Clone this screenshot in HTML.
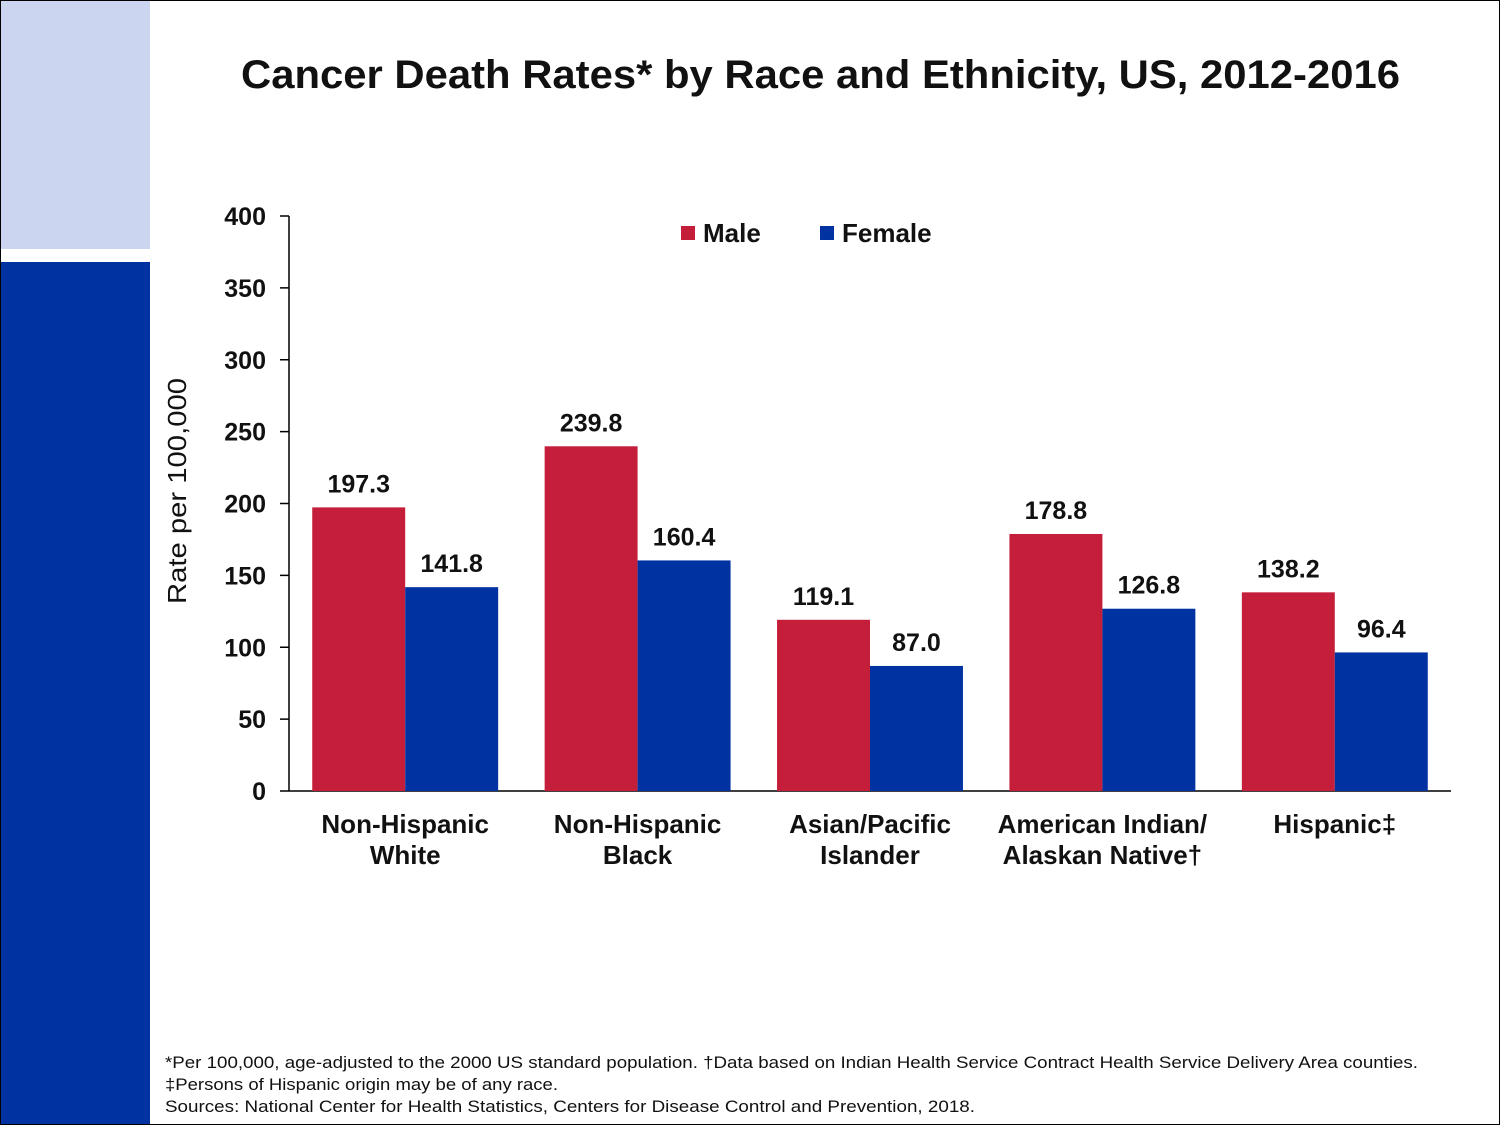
<!DOCTYPE html>
<html><head><meta charset="utf-8"><style>
html,body{margin:0;padding:0;background:#fff;}
svg{display:block;font-family:"Liberation Sans",Arial,sans-serif;}
</style></head><body>
<svg id="chart" width="1500" height="1125" viewBox="0 0 1500 1125">
<rect x="0.5" y="0.5" width="1499" height="1124" fill="#fff" stroke="#000"/>
<rect x="1" y="1" width="149" height="248" fill="#ccd5ef"/>
<rect x="1" y="262" width="149" height="862" fill="#0033a1"/>
<text x="241" y="88" textLength="1159" lengthAdjust="spacingAndGlyphs" font-size="40" font-weight="bold" fill="#111">Cancer Death Rates* by Race and Ethnicity, US, 2012-2016</text>
<text transform="translate(186,604) rotate(-90)" textLength="226" lengthAdjust="spacingAndGlyphs" font-size="26" fill="#111">Rate per 100,000</text>
<g id="axes"></g>
<g id="bars"></g>
<g>
<rect x="681" y="226" width="14" height="14" fill="#c41e3a"/>
<text x="703" y="242" font-size="26" font-weight="bold" fill="#111">Male</text>
<rect x="820" y="226" width="14" height="14" fill="#0033a1"/>
<text x="842" y="242" font-size="26" font-weight="bold" fill="#111">Female</text>
</g>
<g font-size="17" fill="#111">
<text x="165" y="1068" textLength="1253" lengthAdjust="spacingAndGlyphs">*Per 100,000, age-adjusted to the 2000 US standard population. †Data based on Indian Health Service Contract Health Service Delivery Area counties.</text>
<text x="165" y="1090" textLength="393" lengthAdjust="spacingAndGlyphs">‡Persons of Hispanic origin may be of any race.</text>
<text x="165" y="1112" textLength="810" lengthAdjust="spacingAndGlyphs">Sources: National Center for Health Statistics, Centers for Disease Control and Prevention, 2018.</text>
</g>
</svg>
<script>
const categories = [["Non-Hispanic","White"],["Non-Hispanic","Black"],["Asian/Pacific","Islander"],["American Indian/","Alaskan Native†"],["Hispanic‡"]];
const maleValues = [197.3, 239.8, 119.1, 178.8, 138.2];
const femaleValues = [141.8, 160.4, 87.0, 126.8, 96.4];
const yTicks = [0, 50, 100, 150, 200, 250, 300, 350, 400];

const NS = "http://www.w3.org/2000/svg";
const x0 = 289, x1 = 1451, yBase = 791, yTop = 216, yMax = 400;
const band = (x1 - x0) / categories.length;
const barW = band * 0.4;
function y(v){ return yBase - (v / yMax) * (yBase - yTop); }
function bandX(i){ return x0 + band * i + band / 2; }
function mk(tag, attrs, parent, text){
  const e = document.createElementNS(NS, tag);
  for (const k in attrs) e.setAttribute(k, attrs[k]);
  if (text !== undefined) e.textContent = text;
  parent.appendChild(e); return e;
}
const axes = document.getElementById('axes');
const bars = document.getElementById('bars');
let l = mk('line', {x1:x0, y1:yTop, x2:x0, y2:yBase, stroke:'#000', 'stroke-width':1.5}, axes);


l = mk('line', {x1:x0, y1:yBase, x2:x1, y2:yBase, stroke:'#000', 'stroke-width':1.5}, axes);


yTicks.forEach(t => {
  const tk = mk('line', {x1:x0-9, y1:y(t), x2:x0, y2:y(t), stroke:'#000', 'stroke-width':1.5}, axes);
  
  
  const tl = mk('text', {x:266, y:y(t)+9, 'text-anchor':'end', 'font-size':25, 'font-weight':'bold', fill:'#111'}, axes, String(t));
  
  
});
categories.forEach((c, i) => {
  const cx = bandX(i);
  const series = [[maleValues[i], '#c41e3a', cx - barW, 'male'], [femaleValues[i], '#0033a1', cx, 'female']];
  series.forEach(s => {
    const r = mk('rect', {x:s[2], y:y(s[0]), width:barW, height:yBase - y(s[0]), fill:s[1]}, bars);
    
    
    const lb = mk('text', {x:s[2] + barW/2, y:y(s[0]) - 15, 'text-anchor':'middle', 'font-size':25, 'font-weight':'bold', fill:'#111'}, bars, s[0].toFixed(1));
    
    
  });
  c.forEach((line, j) => {
    const cl = mk('text', {x:cx, y:833 + j*31, 'text-anchor':'middle', 'font-size':26, 'font-weight':'bold', fill:'#111'}, axes, line);
    
    
  });
});
</script>
</body></html>
